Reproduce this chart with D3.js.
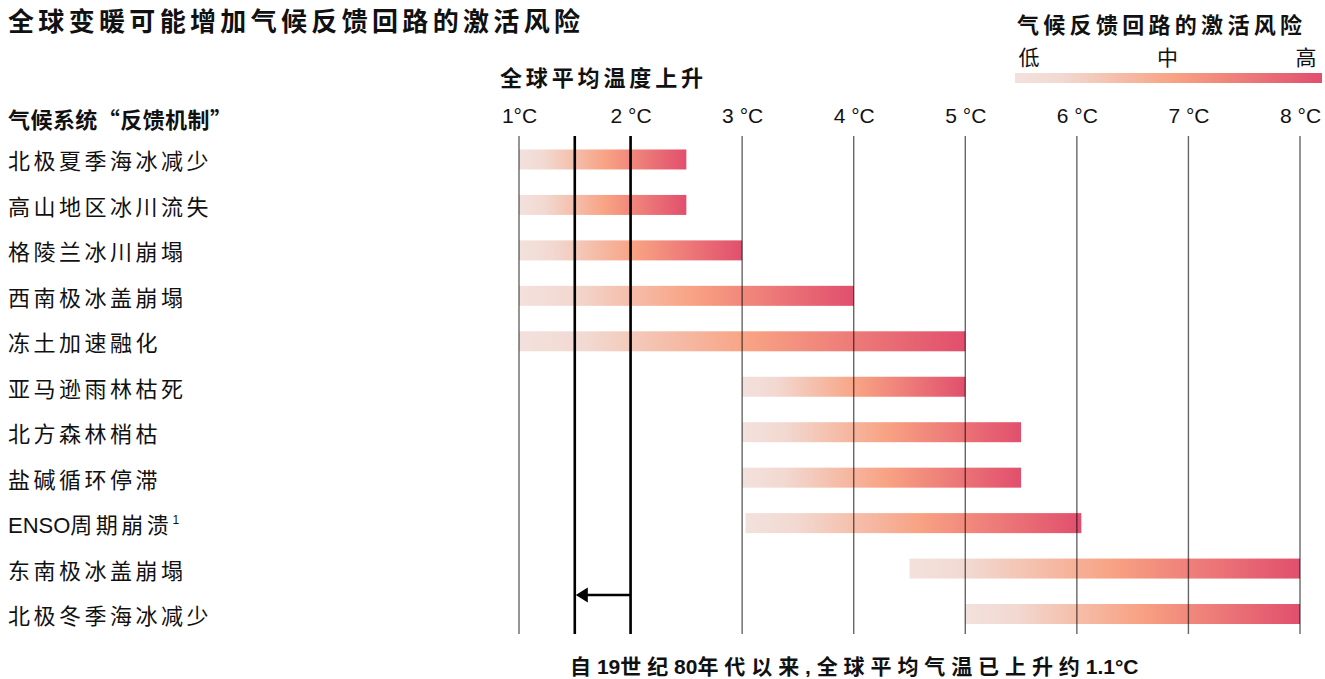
<!DOCTYPE html>
<html lang="zh-CN">
<head>
<meta charset="utf-8">
<script src="https://cdn.jsdelivr.net/npm/d3@7"></script>
<style>
  html, body { margin: 0; padding: 0; background: #fff; }
  svg { display: block; }
  text { fill: #111; }
  .cjk { font-family: "Noto Sans CJK SC", sans-serif; }
  .mix { font-family: "Liberation Sans", "Noto Sans CJK SC", sans-serif; }
</style>
</head>
<body>
<svg id="chart" width="1325" height="679"></svg>
<script>
// Feedback mechanisms and the warming range (°C) over which each may be activated
const mechanisms = [
  "北极夏季海冰减少", "高山地区冰川流失", "格陵兰冰川崩塌", "西南极冰盖崩塌",
  "冻土加速融化", "亚马逊雨林枯死", "北方森林梢枯", "盐碱循环停滞",
  "ENSO周期崩溃", "东南极冰盖崩塌", "北极冬季海冰减少"
];
const rangeStart = [1, 1, 1, 1, 1, 3, 3, 3, 3.03, 4.5, 5];
const rangeEnd   = [2.5, 2.5, 3, 4, 5, 5, 5.5, 5.5, 6.04, 8, 8];

// Temperature axis
const tickValues = [1, 2, 3, 4, 5, 6, 7, 8];
const tickLabels = ["1°C", "2 °C", "3 °C", "4 °C", "5 °C", "6 °C", "7 °C", "8 °C"];

// Warming reached so far and the 2 °C reference
const currentWarming = 1.5;
const referenceWarming = 2;

// Risk legend
const riskLabels = ["低", "中", "高"];

const svg = d3.select("#chart");

const x = d3.scaleLinear().domain([1, 8]).range([519, 1300]);
const y = d3.scalePoint().domain(mechanisms).range([136.75, 636.75]).padding(0.5);
const barH = 20;
const gridTop = 136, gridBottom = 634;
const arrowY = 595;

// Writes a string into a text element, spacing out the CJK runs only
function spacedText(sel, str, cjkSpacing) {
  const runs = str.match(/[\u3000-\u9fff\uff00-\uffef]+|[^\u3000-\u9fff\uff00-\uffef]+/g);
  sel.selectAll("tspan").data(runs).join("tspan")
    .attr("letter-spacing", d => /[\u3000-\u9fff\uff00-\uffef]/.test(d) ? cjkSpacing : 0)
    .text(d => d);
}

// Shared light → orange → red gradient, stretched over each bar
const defs = svg.append("defs");
const grad = defs.append("linearGradient").attr("id", "risk")
  .attr("x1", 0).attr("x2", 1).attr("y1", 0).attr("y2", 0);
grad.append("stop").attr("offset", 0).attr("stop-color", "#f3e1dd");
grad.append("stop").attr("offset", 0.15).attr("stop-color", "#f2d9d1");
grad.append("stop").attr("offset", 0.52).attr("stop-color", "#f8a283");
grad.append("stop").attr("offset", 1).attr("stop-color", "#e14f6d");

// Title
svg.append("text").attr("class", "cjk")
  .attr("x", 8).attr("y", 31)
  .attr("font-size", 26).attr("font-weight", 700)
  .attr("textLength", 572).attr("lengthAdjust", "spacing")
  .text("全球变暖可能增加气候反馈回路的激活风险");

// Legend
const legend = svg.append("g");
legend.append("text").attr("class", "cjk")
  .attr("x", 1017).attr("y", 33)
  .attr("font-size", 22).attr("font-weight", 700)
  .attr("textLength", 285).attr("lengthAdjust", "spacing")
  .text("气候反馈回路的激活风险");
const legendX = d3.scalePoint().domain(riskLabels).range([1029, 1306]);
legend.selectAll("text.risk").data(riskLabels).join("text")
  .attr("class", "cjk risk")
  .attr("x", d => legendX(d)).attr("y", 65)
  .attr("text-anchor", "middle")
  .attr("font-size", 21).attr("font-weight", 400)
  .text(d => d);
legend.append("rect")
  .attr("x", 1015).attr("y", 73).attr("width", 307).attr("height", 10)
  .attr("fill", "url(#risk)");

// Column headings
svg.append("text").attr("class", "cjk")
  .attr("x", 500).attr("y", 86)
  .attr("font-size", 22).attr("font-weight", 700)
  .attr("textLength", 203).attr("lengthAdjust", "spacing")
  .text("全球平均温度上升");
svg.append("text").attr("class", "cjk")
  .attr("x", 8).attr("y", 128)
  .attr("font-size", 22).attr("font-weight", 700)
  .attr("textLength", 224).attr("lengthAdjust", "spacing")
  .text("气候系统“反馈机制”");

// Temperature axis labels
const axis = d3.axisTop(x)
  .tickValues(tickValues)
  .tickFormat((d, i) => tickLabels[i])
  .tickSize(0).tickPadding(0);
const axisG = svg.append("g").attr("transform", "translate(0,123)").call(axis);
axisG.select(".domain").remove();
axisG.selectAll("text")
  .attr("font-family", "Liberation Sans, Arial, sans-serif")
  .attr("font-size", 21).attr("fill", "#111");

// Bars
svg.append("g").selectAll("rect").data(mechanisms).join("rect")
  .attr("x", (d, i) => x(rangeStart[i]))
  .attr("y", d => y(d) - barH / 2)
  .attr("width", (d, i) => x(rangeEnd[i]) - x(rangeStart[i]))
  .attr("height", barH)
  .attr("fill", "url(#risk)");

// Gridlines drawn over the bars
svg.append("g").selectAll("line").data(tickValues).join("line")
  .attr("x1", d => x(d)).attr("x2", d => x(d))
  .attr("y1", gridTop).attr("y2", gridBottom)
  .attr("stroke", "#000").attr("stroke-opacity", 0.6).attr("stroke-width", 1.4);

// Current warming and 2 °C markers
svg.append("g").selectAll("line").data([currentWarming, referenceWarming]).join("line")
  .attr("x1", d => x(d)).attr("x2", d => x(d))
  .attr("y1", gridTop).attr("y2", gridBottom)
  .attr("stroke", "#000").attr("stroke-width", 2.6);

// Arrow from 2 °C back to the current warming level
const tipX = x(currentWarming) + 1;
svg.append("line")
  .attr("x1", x(referenceWarming)).attr("x2", tipX + 8)
  .attr("y1", arrowY).attr("y2", arrowY)
  .attr("stroke", "#000").attr("stroke-width", 2.4);
svg.append("path")
  .attr("d", d3.line()([[tipX, arrowY], [tipX + 12, arrowY - 7.5], [tipX + 12, arrowY + 7.5]]) + "Z")
  .attr("fill", "#000");

// Row labels
const labels = svg.append("g").selectAll("text").data(mechanisms).join("text")
  .attr("class", "mix")
  .attr("x", 8).attr("y", d => y(d) + 10)
  .attr("font-size", 22)
  .each(function(d) { spacedText(d3.select(this), d, 3.5); });
labels.filter(d => d.startsWith("ENSO"))
  .append("tspan")
  .attr("font-size", 12).attr("dy", -9).attr("letter-spacing", 0)
  .text("1");

// Footnote under the chart
const foot = svg.append("text").attr("class", "mix")
  .attr("x", 570).attr("y", 674)
  .attr("font-size", 21).attr("font-weight", 700);
spacedText(foot, "自19世纪80年代以来, 全球平均气温已上升约1.1°C", 5.9);
</script>
</body>
</html>
